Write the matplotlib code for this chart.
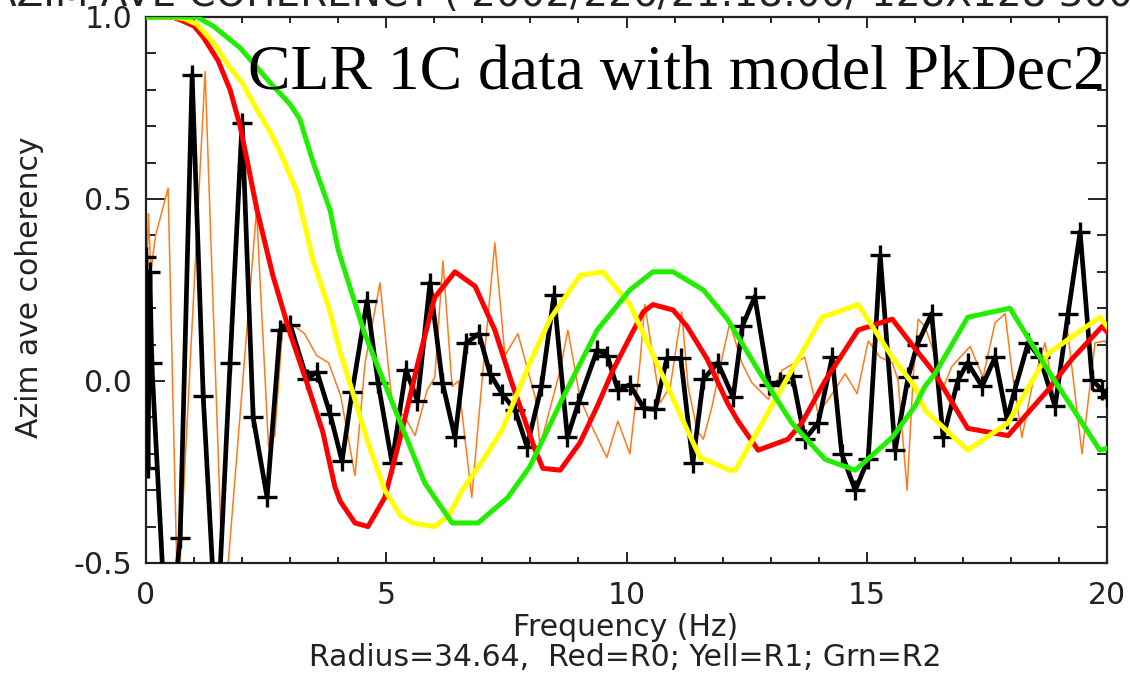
import matplotlib
matplotlib.use("Agg")
import matplotlib.pyplot as plt
from matplotlib.ticker import MultipleLocator, FormatStrFormatter

# measured azimuthally averaged coherency (black, with + markers)
freq_data = [0.0, 0.04, 0.08, 0.12, 0.45, 0.71, 0.96, 1.19, 1.47, 1.75, 2.0, 2.23,
             2.52, 2.79, 3.0, 3.35, 3.56, 3.83, 4.08, 4.29, 4.6, 4.83, 5.12, 5.41,
             5.65, 5.91, 6.17, 6.43, 6.67, 6.93, 7.16, 7.41, 7.68, 7.93, 8.23, 8.49,
             8.77, 9.0, 9.39, 9.6, 9.82, 10.07, 10.36, 10.6, 10.84, 11.13, 11.38,
             11.6, 11.9, 12.22, 12.41, 12.67, 12.97, 13.19, 13.45, 13.71, 13.99,
             14.28, 14.48, 14.76, 15.03, 15.28, 15.59, 15.86, 16.05, 16.35, 16.59,
             16.9, 17.1, 17.4, 17.67, 17.92, 18.08, 18.36, 18.6, 18.92, 19.19,
             19.44, 19.69, 19.9, 20.0]
coh_data = [0.34, -0.24, 0.30, 0.05, -0.78, -0.43, 0.84, -0.04, -0.72, 0.05, 0.71,
            -0.10, -0.32, 0.14, 0.155, 0.005, 0.025, -0.09, -0.22, -0.03, 0.22,
            -0.005, -0.225, 0.03, -0.055, 0.27, -0.005, -0.155, 0.105, 0.13, 0.02,
            -0.035, -0.08, -0.18, -0.015, 0.235, -0.155, -0.06, 0.085, 0.07, -0.025,
            -0.01, -0.075, -0.078, 0.062, 0.062, -0.225, 0.005, 0.05, -0.045, 0.15,
            0.232, -0.01, -0.003, 0.015, -0.16, -0.115, 0.065, -0.2, -0.30, -0.215,
            0.345, -0.19, 0.01, 0.1, 0.185, -0.155, 0.003, 0.05, -0.015, 0.065,
            -0.105, -0.025, 0.105, 0.065, -0.07, 0.185, 0.41, 0.003, -0.025, -0.045]

# finer-resolution coherency (thin orange)
freq_fine = [0.0, 0.05, 0.1, 0.2, 0.46, 0.66, 1.23, 1.62, 2.3, 2.55, 2.68, 2.85,
             3.1, 3.3, 3.55, 3.8, 4.05, 4.35, 4.56, 4.87, 5.12, 5.39, 5.6, 5.85,
             6.01, 6.18, 6.37, 6.5, 6.78, 7.0, 7.26, 7.47, 7.74, 8.1, 8.2, 8.62,
             8.78, 9.03, 9.28, 9.59, 9.82, 10.07, 10.28, 10.38, 10.53, 10.7, 10.91,
             11.15, 11.28, 11.47, 11.6, 11.78, 11.99, 12.15, 12.4, 12.61, 12.95,
             13.24, 13.71, 13.99, 14.28, 14.55, 14.8, 15.03, 15.28, 15.53, 15.65,
             15.84, 15.97, 16.07, 16.21, 16.38, 16.57, 16.77, 17.15, 17.42, 17.67,
             17.88, 18.02, 18.23, 18.44, 18.71, 18.92, 19.17, 19.48, 19.75, 19.96,
             20.0]
coh_fine = [0.20, 0.46, 0.30, 0.40, 0.53, -0.62, 0.85, -0.65, 0.47, -0.18, -0.15,
            0.16, 0.15, 0.13, 0.07, 0.05, -0.04, -0.26, 0.05, 0.27, -0.06, -0.10,
            -0.15, -0.025, 0.01, 0.33, -0.015, 0.0, -0.32, 0.01, 0.38, 0.07, 0.13,
            -0.045, -0.18, 0.03, 0.14, -0.045, -0.125, -0.21, -0.11, -0.2, 0.05,
            0.21, 0.085, -0.06, -0.015, 0.19, -0.015, -0.135, -0.16, -0.07, 0.065,
            0.16, 0.05, -0.005, -0.05, 0.03, 0.065, -0.09, -0.035, 0.02, -0.035,
            0.11, 0.065, 0.05, 0.003, -0.30, 0.02, 0.17, 0.15, 0.085, -0.025, 0.04,
            0.095, 0.01, 0.16, 0.185, 0.03, -0.155, -0.015, 0.105, -0.06, 0.15,
            -0.2, 0.105, 0.11, 0.1]

# model curves R0 (red), R1 (yellow), R2 (green)
freq_r0 = [0.0, 0.55, 0.75, 1.0, 1.19, 1.5, 1.75, 1.96, 2.31, 2.64, 3.0, 3.35, 3.68,
           3.93, 4.04, 4.35, 4.62, 4.97, 5.33, 5.66, 6.01, 6.43, 6.85, 7.26, 7.6,
           8.1, 8.26, 8.62, 9.03, 9.39, 9.72, 10.07, 10.35, 10.55, 10.97, 11.26,
           11.68, 12.1, 12.32, 12.74, 13.36, 13.65, 14.13, 14.82, 15.53, 16.0,
           16.42, 17.1, 17.94, 18.77, 19.27, 19.9, 20.0]
coh_r0 = [1.0, 1.0, 0.99, 0.975, 0.945, 0.88, 0.80, 0.70, 0.47, 0.29, 0.13, -0.005,
          -0.14, -0.29, -0.33, -0.39, -0.40, -0.32, -0.135, 0.05, 0.23, 0.30, 0.26,
          0.14, 0.0, -0.19, -0.24, -0.245, -0.17, -0.07, 0.03, 0.12, 0.19, 0.21,
          0.195, 0.15, 0.06, -0.06, -0.11, -0.19, -0.16, -0.115, 0.0, 0.14, 0.17,
          0.09, 0.02, -0.13, -0.15, -0.025, 0.06, 0.15, 0.135]

freq_r1 = [0.0, 0.55, 0.8, 1.06, 1.4, 1.75, 2.0, 2.31, 2.6, 2.79, 3.14, 3.48, 3.83,
           4.04, 4.3, 4.62, 4.97, 5.3, 5.54, 6.0, 6.3, 6.58, 7.0, 7.41, 7.99, 8.41,
           9.03, 9.51, 10.07, 10.63, 11.11, 11.53, 12.15, 12.26, 12.74, 13.44,
           14.07, 14.82, 15.53, 16.0, 16.21, 17.1, 17.94, 18.77, 19.85, 20.0]
coh_r1 = [1.0, 1.0, 0.995, 0.98, 0.93, 0.86, 0.82, 0.745, 0.68, 0.63, 0.52, 0.33,
          0.19, 0.08, -0.03, -0.17, -0.30, -0.37, -0.39, -0.40, -0.37, -0.30,
          -0.22, -0.135, 0.05, 0.17, 0.29, 0.30, 0.21, 0.05, -0.09, -0.21, -0.245,
          -0.245, -0.135, 0.03, 0.175, 0.21, 0.066, -0.015, -0.08, -0.19, -0.115,
          0.075, 0.175, 0.15]

freq_r2 = [0.0, 1.06, 1.4, 1.96, 2.58, 3.0, 3.2, 3.48, 3.83, 4.0, 4.55, 5.28, 5.8,
           6.37, 6.91, 7.53, 7.99, 8.68, 9.39, 10.07, 10.55, 10.97, 11.6, 12.1,
           12.74, 13.44, 14.13, 14.76, 15.53, 16.0, 16.21, 16.42, 17.1, 17.98,
           18.77, 19.85, 20.0]
coh_r2 = [1.0, 1.0, 0.975, 0.915, 0.82, 0.76, 0.72, 0.60, 0.47, 0.36, 0.13, -0.11,
          -0.28, -0.39, -0.39, -0.32, -0.235, -0.045, 0.14, 0.25, 0.30, 0.30, 0.25,
          0.17, 0.03, -0.115, -0.215, -0.245, -0.155, -0.07, -0.015, 0.02, 0.175,
          0.20, 0.03, -0.19, -0.185]

W, H = 1130, 673
plt.rcParams['font.family'] = ['DejaVu Sans']

fig = plt.figure(figsize=(W / 100, H / 100), dpi=100)
ax = fig.add_axes([146 / W, 1 - 563 / H, (1107 - 146) / W, (563 - 17) / H])

ax.plot(freq_fine, coh_fine, color='#ff7a1a', lw=1.1, zorder=2)
ax.plot(freq_data, coh_data, color='black', lw=3.4, marker='+', ms=14,
        mew=2.4, zorder=3)
ax.plot(freq_r0, coh_r0, color='#ff0000', lw=3.6, zorder=4)
ax.plot(freq_r1, coh_r1, color='#ffff00', lw=3.6, zorder=5)
ax.plot(freq_r2, coh_r2, color='#22ee00', lw=3.6, zorder=6)

ax.set_xlim(0, 20)
ax.set_ylim(-0.5, 1.0)
ax.xaxis.set_major_locator(MultipleLocator(5))
ax.xaxis.set_minor_locator(MultipleLocator(1))
ax.yaxis.set_major_locator(MultipleLocator(0.5))
ax.yaxis.set_minor_locator(MultipleLocator(0.1))
ax.yaxis.set_major_formatter(FormatStrFormatter('%.1f'))

ax.tick_params(axis='x', which='major', direction='in', length=8, width=1.2,
               top=True, labelsize=21.5, pad=13, labelcolor='#222222')
ax.tick_params(axis='x', which='minor', direction='in', length=4.5, width=1.2,
               top=True)
ax.tick_params(axis='y', which='major', direction='in', length=14, width=1.2,
               right=True, labelsize=21.5, pad=10, labelcolor='#222222')
ax.tick_params(axis='y', which='minor', direction='in', length=7, width=1.2,
               right=True)
for s in ax.spines.values():
    s.set_linewidth(1.6)
    s.set_color('#222222')

fig.text(626 / W, 1 - 627 / H, 'Frequency (Hz)', ha='center', va='center',
         fontsize=21.5, color='#222222')
fig.text(625 / W, 1 - 657 / H, 'Radius=34.64,  Red=R0; Yell=R1; Grn=R2',
         ha='center', va='center', fontsize=21.5, color='#222222')
fig.text(30 / W, 1 - 287 / H, 'Azim ave coherency', rotation=90,
         ha='center', va='center', fontsize=21.5, color='#222222')

# title line that runs off the top of the page
fig.text(-10 / W, 1 - 6 / H, 'AZIM AVE COHERENCY ( 2002/226/21:18:00/ 128X128 300 Km )',
         ha='left', va='baseline', fontsize=28, color='#222222')

fig.text(1105 / W, 1 - 89 / H, 'CLR 1C data with model PkDec2',
         family='Liberation Serif', fontsize=45.8, ha='right', va='baseline',
         color='black', zorder=10)

fig.savefig('out.png', dpi=100)
